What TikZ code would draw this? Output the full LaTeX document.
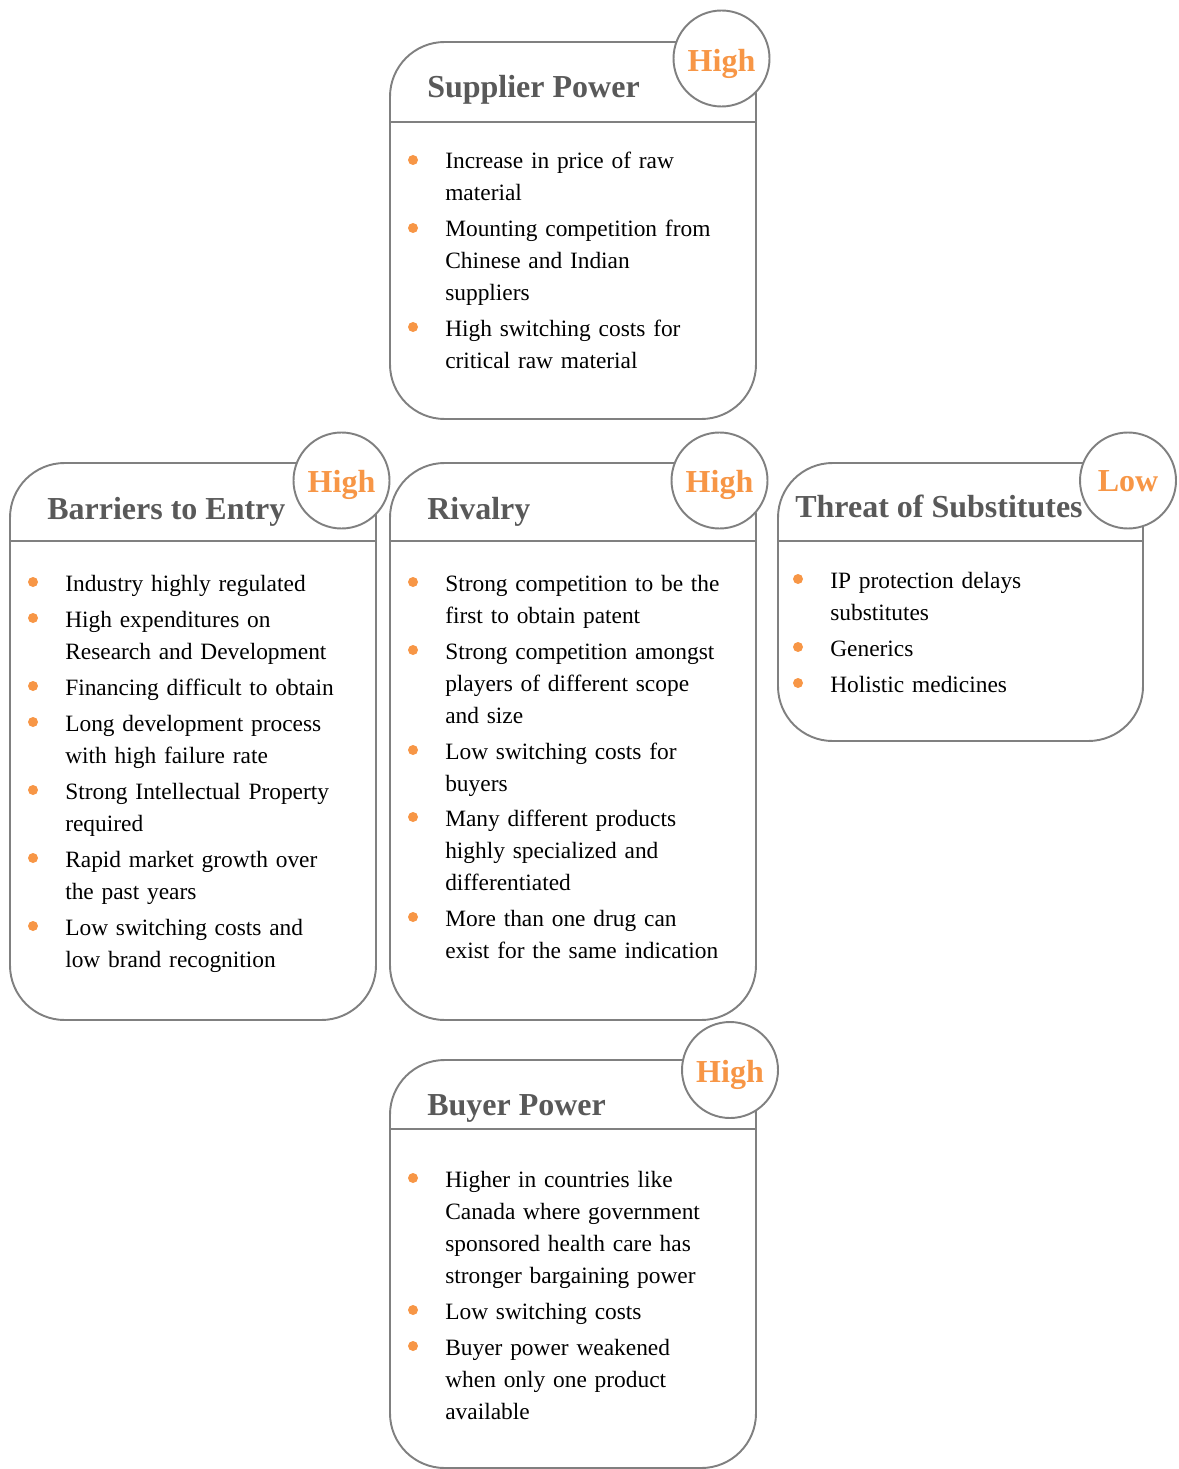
\documentclass[tikz,border=0pt]{standalone}
\usepackage{fontspec}
\setmainfont{Liberation Serif}
\usetikzlibrary{fit}
\definecolor{framegrey}{HTML}{808080}
\definecolor{titlegrey}{HTML}{595959}
\definecolor{rateorange}{HTML}{F79646}
\tikzset{
  forcebox/.style={draw=framegrey, line width=1.45pt, rounded corners=41pt, inner sep=0pt},
  headline/.style={draw=framegrey, line width=1.45pt},
  forcetitle/.style={anchor=base west, inner sep=0pt, text=titlegrey,
    font=\fontsize{24}{28}\selectfont\bfseries},
  ratecircle/.style={circle, draw=framegrey, fill=white, line width=1.45pt,
    minimum size=72pt, inner sep=0pt},
  ratetext/.style={anchor=base, inner sep=0pt, text=rateorange,
    font=\fontsize{24}{28}\selectfont\bfseries},
  bulletdot/.style={circle, fill=rateorange, minimum size=7.5pt, inner sep=0pt},
  itemtext/.style={anchor=base west, inner sep=0pt, text width=250pt, align=left,
    font=\fontsize{17.55}{24}\selectfont}
}
\begin{document}
\begin{tikzpicture}[x=0.75pt, y=-0.75pt]
  \useasboundingbox (0,0) rectangle (1178,1469);
  % boxes
  \node[forcebox, fit={(390,42) (756,419)}] (supplier) {};
  \node[forcebox, fit={(10,463) (376,1020)}] (barriers) {};
  \node[forcebox, fit={(390,463) (756,1020)}] (rivalry) {};
  \node[forcebox, fit={(778,463) (1143,741)}] (threat) {};
  \node[forcebox, fit={(390,1060) (756,1468)}] (buyer) {};
  \draw[headline] (supplier.west |- 0,122) -- (supplier.east |- 0,122);
  \draw[headline] (barriers.west |- 0,541) -- (barriers.east |- 0,541);
  \draw[headline] (rivalry.west |- 0,541) -- (rivalry.east |- 0,541);
  \draw[headline] (threat.west |- 0,541) -- (threat.east |- 0,541);
  \draw[headline] (buyer.west |- 0,1129) -- (buyer.east |- 0,1129);
  % titles
  \node[forcetitle] (suppliertitle) at (427,98) {Supplier Power};
  \node[forcetitle] (barrierstitle) at (47,519) {Barriers to Entry};
  \node[forcetitle] (rivalrytitle) at (427,519) {Rivalry};
  \node[forcetitle] (threattitle) at (795,517) {Threat of Substitutes};
  \node[forcetitle] (buyertitle) at (427,1115) {Buyer Power};
  % ratings
  \node[ratecircle] (supplierrate) at (721.5,58.5) {};
  \node[ratecircle] (barriersrate) at (341.5,480.5) {};
  \node[ratecircle] (rivalryrate) at (719.5,480.5) {};
  \node[ratecircle] (threatrate) at (1128,480.5) {};
  \node[ratecircle] (buyerrate) at (730,1070) {};
  \node[ratetext] (supplierlevel) at (721.5,71.5) {High};
  \node[ratetext] (barrierslevel) at (341.5,492.5) {High};
  \node[ratetext] (rivalrylevel) at (719.5,492.5) {High};
  \node[ratetext] (threatlevel) at (1128,491.5) {Low};
  \node[ratetext] (buyerlevel) at (730,1082) {High};
  % supplier power
  \node[bulletdot] (sup1dot) at (413,160) {};
  \node[itemtext] (sup1) at (445,169) {Increase in price of raw\\material};
  \node[bulletdot] (sup2dot) at (413,228) {};
  \node[itemtext] (sup2) at (445,237) {Mounting competition from\\Chinese and Indian\\suppliers};
  \node[bulletdot] (sup3dot) at (413,327) {};
  \node[itemtext] (sup3) at (445,336) {High switching costs for\\critical raw material};
  % barriers to entry
  \node[bulletdot] (bar1dot) at (33,582) {};
  \node[itemtext] (bar1) at (65,591) {Industry highly regulated};
  \node[bulletdot] (bar2dot) at (33,618) {};
  \node[itemtext] (bar2) at (65,627) {High expenditures on\\Research and Development};
  \node[bulletdot] (bar3dot) at (33,686) {};
  \node[itemtext] (bar3) at (65,695) {Financing difficult to obtain};
  \node[bulletdot] (bar4dot) at (33,722) {};
  \node[itemtext] (bar4) at (65,731) {Long development process\\with high failure rate};
  \node[bulletdot] (bar5dot) at (33,790) {};
  \node[itemtext] (bar5) at (65,799) {Strong Intellectual Property\\required};
  \node[bulletdot] (bar6dot) at (33,858) {};
  \node[itemtext] (bar6) at (65,867) {Rapid market growth over\\the past years};
  \node[bulletdot] (bar7dot) at (33,926) {};
  \node[itemtext] (bar7) at (65,935) {Low switching costs and\\low brand recognition};
  % rivalry
  \node[bulletdot] (riv1dot) at (413,582) {};
  \node[itemtext] (riv1) at (445,591) {Strong competition to be the\\first to obtain patent};
  \node[bulletdot] (riv2dot) at (413,650) {};
  \node[itemtext] (riv2) at (445,659) {Strong competition amongst\\players of different scope\\and size};
  \node[bulletdot] (riv3dot) at (413,750) {};
  \node[itemtext] (riv3) at (445,759) {Low switching costs for\\buyers};
  \node[bulletdot] (riv4dot) at (413,817) {};
  \node[itemtext] (riv4) at (445,826) {Many different products\\highly specialized and\\differentiated};
  \node[bulletdot] (riv5dot) at (413,917) {};
  \node[itemtext] (riv5) at (445,926) {More than one drug can\\exist for the same indication};
  % threat of substitutes
  \node[bulletdot] (thr1dot) at (798,579) {};
  \node[itemtext] (thr1) at (830,588) {IP protection delays\\substitutes};
  \node[bulletdot] (thr2dot) at (798,647) {};
  \node[itemtext] (thr2) at (830,656) {Generics};
  \node[bulletdot] (thr3dot) at (798,683) {};
  \node[itemtext] (thr3) at (830,692) {Holistic medicines};
  % buyer power
  \node[bulletdot] (buy1dot) at (413,1178) {};
  \node[itemtext] (buy1) at (445,1187) {Higher in countries like\\Canada where government\\sponsored health care has\\stronger bargaining power};
  \node[bulletdot] (buy2dot) at (413,1310) {};
  \node[itemtext] (buy2) at (445,1319) {Low switching costs};
  \node[bulletdot] (buy3dot) at (413,1346) {};
  \node[itemtext] (buy3) at (445,1355) {Buyer power weakened\\when only one product\\available};
\end{tikzpicture}
\end{document}
